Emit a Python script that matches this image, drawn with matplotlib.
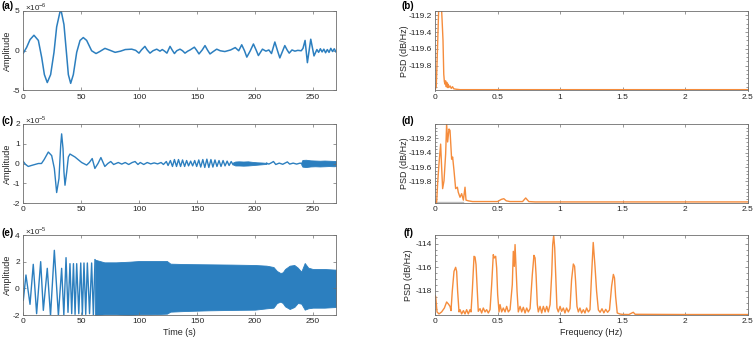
import numpy as np
import matplotlib
matplotlib.use('Agg')
import matplotlib.pyplot as plt
from matplotlib.ticker import FixedLocator, FuncFormatter, AutoMinorLocator

plt.rcParams['font.family'] = ['Liberation Sans', 'DejaVu Sans']
plt.rcParams['mathtext.fontset'] = 'custom'
plt.rcParams['mathtext.rm'] = 'Liberation Sans'
plt.rcParams['axes.unicode_minus'] = False

BLUE = '#2c7fbf'
ORANGE = '#f58c3c'

# ---- (a) time series, x1e-6 ----
t_a = [0, 2.9, 5.8, 9.2, 13, 15.9, 18.2, 20.7, 23.6, 26.5, 28.8, 32.3, 35.1, 37.5, 38.9, 40.9,
       43.2, 46.1, 49, 51.8, 54.7, 59, 62.8, 66, 70.5, 75, 79.3, 84, 88, 93.6, 97, 99.9, 102, 105, 107,
       109.4, 112, 115.2, 118, 120, 122, 124, 126.7, 128.5, 130.5, 132.5, 135.3, 137.5, 139.6, 142, 144,
       147.7, 149.7, 151.7, 154.5, 156.9, 159, 161.2, 164, 167, 170, 174, 179, 183, 186, 188.6, 191, 193,
       196, 198.7, 201, 203, 206.5, 209.5, 212, 214.3, 217.2, 219.5, 221.5, 224, 225.8, 227.8, 229.6,
       232, 234.5, 237, 240, 241.5, 243.3, 245.3, 248.2, 251, 253.5, 255, 256.5, 258, 259.5,
       261, 262.5, 264, 265.5, 267, 268.5, 270]
v_a = [-0.3, 0.43, 1.4, 1.95, 1.3, -0.86, -3.0, -4.0, -3.0, -0.2, 3.0, 5.3, 3.3, -0.65, -3.0, -4.1,
       -3.0, -0.2, 1.3, 1.66, 1.3, 0.0, -0.35, -0.1, 0.3, 0.05, -0.2, -0.05, 0.15, 0.2, 0.05, -0.3, 0.1, 0.55, 0.1,
       -0.3, 0.0, 0.2, -0.05, 0.15, -0.05, -0.3, 0.55, 0.1, -0.35, 0.0, 0.2, 0.0, -0.3, -0.05, 0.1,
       0.45, 0.05, -0.4, 0.1, 0.65, 0.1, -0.4, -0.1, 0.2, 0.0, -0.1, 0.1, 0.4, 0.0, 0.75, 0.0, -0.8,
       0.0, 0.85, 0.1, -0.6, 0.2, -0.05, 0.1, -0.35, 1.1, 0.0, -0.9, 0.0, 0.65, 0.1, -0.3,
       0.1, -0.05, 0.05, 0.0, 0.3, 1.3, -1.5, 1.45, -0.65, 0.15, -0.2, 0.25, -0.15, 0.2,
       -0.25, 0.15, -0.2, 0.3, -0.1, 0.25, -0.15]

# ---- (c) time series, x1e-5 ----
t_c = [0, 2, 4.3, 7, 10, 13, 15.7, 18, 21.6, 24.5, 26.8, 28.8, 30.8, 32.3, 33.1, 34.3, 35.1, 36,
       37.5, 38.9, 40.3, 44.6, 50.4, 54.7, 57, 59.5, 61.8, 64.5, 67, 70.4, 73, 75.5, 78, 82,
       85, 88, 91, 94, 96.5, 99, 101, 104, 107, 110, 113, 116, 119, 121, 123.5, 125, 127, 128.8,
       130.5, 132.3, 134, 135.8, 137.5, 139.3, 141, 142.7, 144.5, 146.2, 148, 149.7, 151.5,
       153.2, 155, 156.7, 158.5, 160.2, 162, 163.7, 165.5, 167.2, 169, 170.7, 172.5, 174.2,
       176, 177.7, 179.5, 181]
v_c = [0.1, -0.05, -0.15, -0.1, -0.05, 0.0, 0.0, 0.2, 0.58, 0.4, -0.25, -1.47, -0.76, 0.93, 1.5, 0.75, -0.42,
       -1.1, -0.42, 0.33, 0.48, 0.33, 0.05, -0.08, 0.05, 0.25, -0.25, 0.0, 0.3, -0.15, 0.0, 0.1, -0.05, 0.05,
       -0.03, 0.05, -0.05, 0.05, 0.1, -0.05, 0.05, -0.05, 0.05, -0.02, 0.03, -0.02, 0.05, -0.05, 0.1, -0.1, 0.15, -0.15,
       0.2, -0.15, 0.2, -0.15, 0.18, -0.15, 0.15, -0.12, 0.12, -0.12, 0.15, -0.15, 0.18,
       -0.18, 0.2, -0.2, 0.22, -0.2, 0.2, -0.18, 0.18, -0.15, 0.15, -0.15, 0.15, -0.12,
       0.12, -0.1, 0.1, -0.05]
t_c2 = [210, 212, 214, 216, 218, 221, 224, 226, 228, 230, 233, 236, 239, 240]
v_c2 = [0.02, -0.03, 0.03, 0.1, -0.05, 0.02, -0.04, 0.02, 0.08, -0.03, 0.02, -0.03, 0.02, 0.0]
# dense parts of (c): envelope
band1_t = [181, 183, 186, 190, 194, 198, 202, 206, 210]
band1_hi = [0.05, 0.1, 0.11, 0.1, 0.11, 0.08, 0.06, 0.05, 0.03]
band1_lo = [-0.05, -0.1, -0.1, -0.11, -0.1, -0.08, -0.06, -0.04, -0.02]
band2_t = [240, 241, 244, 248, 252, 256, 260, 264, 268, 270]
band2_hi = [0.05, 0.18, 0.19, 0.16, 0.15, 0.14, 0.15, 0.14, 0.13, 0.13]
band2_lo = [-0.05, -0.16, -0.18, -0.15, -0.14, -0.15, -0.14, -0.13, -0.14, -0.13]

# ---- (e) time series, x1e-5 ----
t_e = [0, 2.3, 5.8, 8.6, 11.5, 15, 17.3, 20.7, 23.5, 26.8, 30.3, 33.1, 35, 36.9, 38.6, 40.3,
       41.8, 43.3, 44.7, 46.1, 47.9, 49.6, 51, 52.4, 53.9, 55.3, 57.2, 59, 60.5, 61.9]
v_e = [-0.9, 1.0, -1.2, 1.8, -1.9, 2.0, -1.65, 1.5, -2.05, 2.85, -2.05, 1.5, -2.0, 2.3, -1.8, 1.85,
       -1.9, 1.85, -1.95, 1.85, -1.9, 1.9, -1.95, 1.9, -1.95, 1.9, -1.9, 1.9, -2.0, 2.15]
band_e_t = [61.9, 70, 80, 92, 100, 110, 124, 127, 140, 160, 180, 200, 210, 216, 219, 222, 224,
            226, 230, 234, 237, 240, 243, 246, 250, 260, 270]
band_e_hi = [2.15, 1.95, 1.95, 2.0, 2.05, 2.05, 2.05, 1.85, 1.82, 1.8, 1.78, 1.75, 1.7, 1.6, 1.3, 1.15, 1.2,
             1.45, 1.7, 1.75, 1.55, 1.25, 1.9, 1.55, 1.45, 1.45, 1.4]
band_e_lo = [-2.0, -1.95, -1.95, -2.0, -1.95, -1.95, -1.9, -1.75, -1.7, -1.65, -1.62, -1.6, -1.5, -1.45, -1.1, -1.0, -1.1,
             -1.35, -1.55, -1.4, -1.1, -1.15, -1.6, -1.5, -1.45, -1.45, -1.4]

# ---- (b) PSD ----
f_b = [0, 0.01, 0.02, 0.03, 0.04, 0.05, 0.058, 0.064, 0.07, 0.075, 0.08, 0.085, 0.09, 0.095, 0.1,
       0.105, 0.11, 0.12, 0.13, 0.14, 0.15, 0.17, 0.2, 0.25, 0.3, 2.5]
p_b = [-120.09, -120.05, -119.6, -119.1, -119.05, -119.05, -119.3, -119.5, -119.9, -119.99, -120.02,
       -119.98, -120.05, -120.0, -120.06, -120.02, -120.06, -120.04, -120.07, -120.05, -120.075, -120.08,
       -120.085, -120.085, -120.085, -120.085]

# ---- (d) PSD ----
f_d = [0, 0.013, 0.022, 0.032, 0.045, 0.053, 0.061, 0.072, 0.085, 0.093, 0.101, 0.112, 0.12, 0.133,
       0.141, 0.152, 0.165, 0.179, 0.186, 0.2, 0.213, 0.227, 0.24, 0.248, 0.267, 0.3, 0.4, 0.5, 0.53,
       0.55, 0.57, 0.6, 0.7, 0.725, 0.75, 0.8, 2.5]
p_d = [-120.09, -120.09, -119.8, -119.55, -119.28, -119.6, -119.9, -119.79, -119.42, -119.0, -119.25,
       -119.07, -119.09, -119.49, -119.46, -119.65, -119.9, -119.88, -119.95, -120.02, -119.97, -120.06,
       -119.88, -120.06, -120.07, -120.08, -120.08, -120.08, -120.05, -120.04, -120.07, -120.08, -120.08,
       -120.03, -120.08, -120.085, -120.085]
f_d_gray = [0, 0.22]
p_d_gray = [-120.09, -120.09]

# ---- (f) PSD ----
f_f = [0, 0.0053, 0.016, 0.032, 0.053, 0.075, 0.093, 0.107, 0.12, 0.128, 0.138, 0.152, 0.165, 0.173,
       0.181, 0.192, 0.2, 0.213, 0.227, 0.24, 0.253, 0.266, 0.28, 0.288, 0.298, 0.312, 0.32, 0.328,
       0.338, 0.346, 0.36, 0.373, 0.386, 0.4, 0.413, 0.426, 0.44, 0.453, 0.466, 0.474, 0.485, 0.493,
       0.501, 0.512, 0.52, 0.533, 0.546, 0.56, 0.573, 0.586, 0.6, 0.618, 0.626, 0.634, 0.64, 0.648,
       0.656, 0.666, 0.68, 0.693, 0.706, 0.72, 0.733, 0.746, 0.76, 0.778, 0.791, 0.8, 0.808, 0.818,
       0.826, 0.84, 0.853, 0.866, 0.88, 0.893, 0.906, 0.92, 0.933, 0.941, 0.949, 0.957, 0.965, 0.975,
       0.986, 1.0, 1.012, 1.026, 1.039, 1.052, 1.066, 1.079, 1.092, 1.106, 1.116, 1.124, 1.135, 1.146,
       1.159, 1.172, 1.186, 1.199, 1.212, 1.226, 1.239, 1.252, 1.265, 1.279, 1.292, 1.306, 1.32, 1.335,
       1.35, 1.365, 1.38, 1.395, 1.412, 1.426, 1.435, 1.444, 1.457, 1.48, 1.5, 1.55, 1.585, 1.6, 2.0, 2.5]
p_f = [-118.4, -118.45, -119.77, -119.94, -119.77, -119.44, -118.93, -119.1, -119.3, -119.66, -118.03,
       -116.34, -116.0, -116.34, -118.03, -119.77, -119.58, -119.94, -119.66, -119.94, -119.58, -119.94,
       -119.58, -119.77, -118.03, -115.07, -115.13, -115.77, -118.03, -119.72, -119.49, -119.86, -119.44,
       -119.77, -119.58, -119.86, -119.58, -117.46, -114.93, -115.21, -115.07, -116.06, -118.31, -119.77,
       -119.15, -119.77, -119.44, -119.77, -119.3, -119.77, -119.58, -117.46, -114.65, -115.92, -114.08,
       -116.06, -118.03, -119.77, -119.3, -119.77, -119.38, -119.86, -119.44, -119.77, -119.49, -116.62,
       -114.99, -115.21, -116.62, -119.15, -119.77, -119.3, -119.86, -119.3, -119.77, -119.3, -119.77,
       -119.15, -116.62, -114.08, -113.3, -114.37, -116.62, -119.44, -119.77, -119.3, -119.72, -119.44,
       -119.86, -119.44, -119.77, -119.49, -117.04, -115.72, -115.92, -117.18, -119.3, -119.77, -119.44,
       -119.86, -119.58, -119.86, -119.44, -119.77, -119.58, -116.62, -113.9, -115.9, -118.03, -119.6,
       -119.8, -119.5, -119.85, -119.55, -119.8, -119.6, -117.6, -116.6, -116.9, -118.45, -119.86,
       -119.95, -119.98, -119.99, -119.8, -119.97, -119.99, -119.99]

fig = plt.figure(figsize=(7.53, 3.40), dpi=100)

# axes rects in pixels: left x, right x, rows (top, bottom)
W, H = 753.0, 340.0
rows = [(11, 90.5), (124, 203), (235, 315)]
lx = (23.3, 336.0)
rx = (435.0, 747.7)


def make_ax(x, row):
    top, bot = row
    return fig.add_axes([x[0] / W, 1 - bot / H, (x[1] - x[0]) / W, (bot - top) / H])


def style(ax):
    for s in ax.spines.values():
        s.set_color('#6e6e6e')
        s.set_linewidth(0.6)
    ax.tick_params(which='both', direction='in', top=True, right=True, colors='#6e6e6e',
                   labelcolor='#262626', labelsize=6.0, width=0.5, pad=2.5)
    ax.tick_params(which='major', length=2.5)
    ax.tick_params(which='minor', length=1.3)


fmt_g = FuncFormatter(lambda v, p: '%g' % v)

# left column
left_axes = [make_ax(lx, r) for r in rows]
for ax in left_axes:
    ax.set_xlim(0, 270)
    ax.xaxis.set_major_locator(FixedLocator([0, 50, 100, 150, 200, 250]))
    ax.xaxis.set_major_formatter(fmt_g)
    ax.yaxis.set_major_formatter(fmt_g)
    style(ax)
    ax.set_ylabel('Amplitude', fontsize=6.5, color='#262626')
    ax.yaxis.set_label_coords(-0.035, 0.5)

ax = left_axes[0]
ax.plot(t_a, v_a, color=BLUE, lw=1.1)
ax.set_ylim(-5, 5)
ax.yaxis.set_major_locator(FixedLocator([-5, 0, 5]))
ax.text(0.005, 1.01, r'$\times 10^{-6}$', transform=ax.transAxes, fontsize=5.8, color='#262626')

ax = left_axes[1]
ax.plot(t_c, v_c, color=BLUE, lw=1.0)
ax.plot(t_c2, v_c2, color=BLUE, lw=1.0)
ax.fill_between(band1_t, band1_lo, band1_hi, color=BLUE, lw=0.6)
ax.fill_between(band2_t, band2_lo, band2_hi, color=BLUE, lw=0.6)
ax.set_ylim(-2, 2)
ax.yaxis.set_major_locator(FixedLocator([-2, -1, 0, 1, 2]))
ax.text(0.005, 1.01, r'$\times 10^{-5}$', transform=ax.transAxes, fontsize=5.8, color='#262626')

ax = left_axes[2]
ax.plot(t_e, v_e, color=BLUE, lw=1.0)
ax.fill_between(band_e_t, band_e_lo, band_e_hi, color=BLUE, lw=0.6)
ax.set_ylim(-2, 4)
ax.yaxis.set_major_locator(FixedLocator([-2, 0, 2, 4]))
ax.text(0.005, 1.01, r'$\times 10^{-5}$', transform=ax.transAxes, fontsize=5.8, color='#262626')
ax.set_xlabel('Time (s)', fontsize=6.5, color='#262626', labelpad=2)

# right column
right_axes = [make_ax(rx, r) for r in rows]
for ax in right_axes:
    ax.set_xlim(0, 2.5)
    ax.xaxis.set_major_locator(FixedLocator([0, 0.5, 1, 1.5, 2, 2.5]))
    ax.xaxis.set_major_formatter(fmt_g)
    style(ax)
    ax.set_ylabel('PSD (dB/Hz)', fontsize=6.5, color='#262626')

ax = right_axes[0]
ax.plot(f_b, p_b, color=ORANGE, lw=1.0)
ax.set_ylim(-120.095, -119.15)
ax.yaxis.set_major_locator(FixedLocator([-119.8, -119.6, -119.4, -119.2]))
ax.yaxis.set_major_formatter(FuncFormatter(lambda v, p: '%.1f' % v))
ax.yaxis.set_minor_locator(AutoMinorLocator(4))
ax.yaxis.set_label_coords(-0.083, 0.5)

ax = right_axes[1]
ax.plot(f_d_gray, p_d_gray, color='#bdbdbd', lw=1.0)
ax.plot(f_d, p_d, color=ORANGE, lw=1.0)
ax.set_ylim(-120.1, -119.0)
ax.yaxis.set_major_locator(FixedLocator([-119.8, -119.6, -119.4, -119.2]))
ax.yaxis.set_major_formatter(FuncFormatter(lambda v, p: '%.1f' % v))
ax.yaxis.set_minor_locator(AutoMinorLocator(4))
ax.yaxis.set_label_coords(-0.083, 0.5)

ax = right_axes[2]
ax.plot(f_f, p_f, color=ORANGE, lw=1.0)
ax.set_ylim(-120.03, -113.27)
ax.yaxis.set_major_locator(FixedLocator([-118, -116, -114]))
ax.yaxis.set_minor_locator(AutoMinorLocator(4))
ax.yaxis.set_label_coords(-0.069, 0.5)
ax.set_xlabel('Frequency (Hz)', fontsize=6.5, color='#262626', labelpad=2)

# panel letters
letters = [('(a)', 2, 6), ('(b)', 402, 6), ('(c)', 2, 121), ('(d)', 402, 121),
           ('(e)', 2, 233.5), ('(f)', 403, 233.5)]
for s, x, y in letters:
    fig.text(x / W, 1 - y / H, s, fontsize=7, fontweight='bold', va='center', ha='left')

fig.savefig('out.png', dpi=100)
